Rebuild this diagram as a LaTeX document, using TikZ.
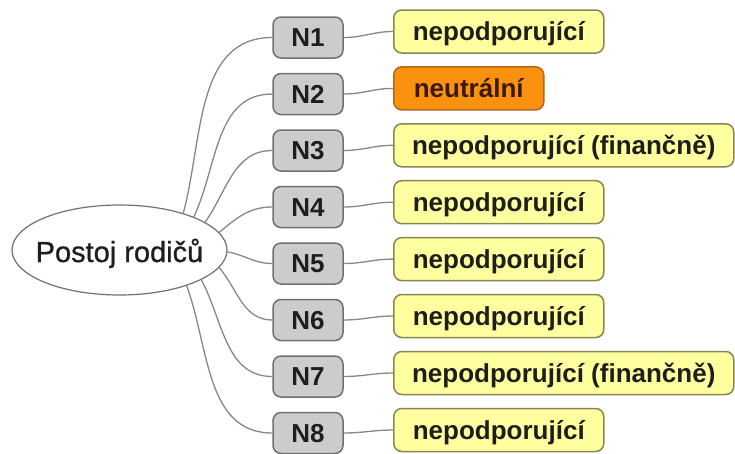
\documentclass[tikz,border=0pt]{standalone}
\usepackage{fontspec}
\setmainfont{Liberation Sans}
\newfontfamily\topicfont[FakeBold=0.8]{Liberation Sans}
\usetikzlibrary{shapes.geometric}
\definecolor{linegray}{RGB}{135,135,135}
\definecolor{nfill}{RGB}{204,204,204}
\definecolor{nborder}{RGB}{112,112,112}
\definecolor{yfill}{RGB}{255,255,160}
\definecolor{yborder}{RGB}{135,135,85}
\definecolor{ofill}{RGB}{250,145,15}
\definecolor{oborder}{RGB}{185,100,25}
\definecolor{otext}{RGB}{60,25,0}
\definecolor{ink}{RGB}{30,30,30}
\begin{document}
\begin{tikzpicture}[x=1pt,y=-1pt,
  rootnode/.style={ellipse, draw=nborder, fill=white, line width=1.2pt,
    minimum width=215pt, minimum height=90pt, inner sep=0pt},
  rootlabel/.style={inner sep=0pt, text height=24pt, text depth=0pt, text=ink,
    font=\topicfont\fontsize{29}{31}\selectfont},
  codebox/.style={rectangle, rounded corners=8pt, draw=nborder, fill=nfill,
    line width=1.5pt, minimum width=70pt, minimum height=41pt, inner sep=0pt,
    text height=20pt, text depth=2pt, text=ink,
    font=\bfseries\fontsize{26}{28}\selectfont},
  answer/.style={rectangle, rounded corners=8pt, draw=yborder, fill=yfill,
    line width=1.5pt, minimum height=43pt, inner sep=0pt, anchor=west,
    text height=20pt, text depth=2pt, text=ink,
    font=\bfseries\fontsize{26}{28}\selectfont},
  neutral/.style={answer, draw=oborder, fill=ofill, text=otext},
  link/.style={draw=linegray, line width=1.3pt},
]
\useasboundingbox (0,0) rectangle (735,453);

% central topic: outline and its label
\node[rootnode] (root) at (119.5,250) {};
\node[rootlabel] (roottext) at (root.center) {Postoj rodičů};

% respondent codes
\foreach \i in {1,...,8}
  \node[codebox] (n\i) at (308,{37.5+56.5*(\i-1)}) {N\i};

% attitudes
\node[answer,  minimum width=210pt] (y1) at (393,31.5)  {nepodporující};
\node[neutral, minimum width=150pt] (y2) at (393,88.4)  {neutrální};
\node[answer,  minimum width=340pt] (y3) at (393,145.3) {nepodporující (finančně)};
\node[answer,  minimum width=210pt] (y4) at (393,202.2) {nepodporující};
\node[answer,  minimum width=210pt] (y5) at (393,259.1) {nepodporující};
\node[answer,  minimum width=210pt] (y6) at (393,316.0) {nepodporující};
\node[answer,  minimum width=340pt] (y7) at (393,373.0) {nepodporující (finančně)};
\node[answer,  minimum width=210pt] (y8) at (393,430.0) {nepodporující};

% branches from the central topic
\foreach \i/\a/\o in {1/30.6/75, 2/24.9/65, 3/18.3/55, 4/10.7/40,
                      5/-1.6/-10, 6/-10.4/-50, 7/-20/-62, 8/-28.4/-70}
  \draw[link] (root.\a) to[out=\o,in=180] (n\i.west);

% codes to attitudes
\foreach \i in {1,...,8}
  \draw[link] (n\i.east) to[out=0,in=180] (y\i.west);
\end{tikzpicture}
\end{document}
